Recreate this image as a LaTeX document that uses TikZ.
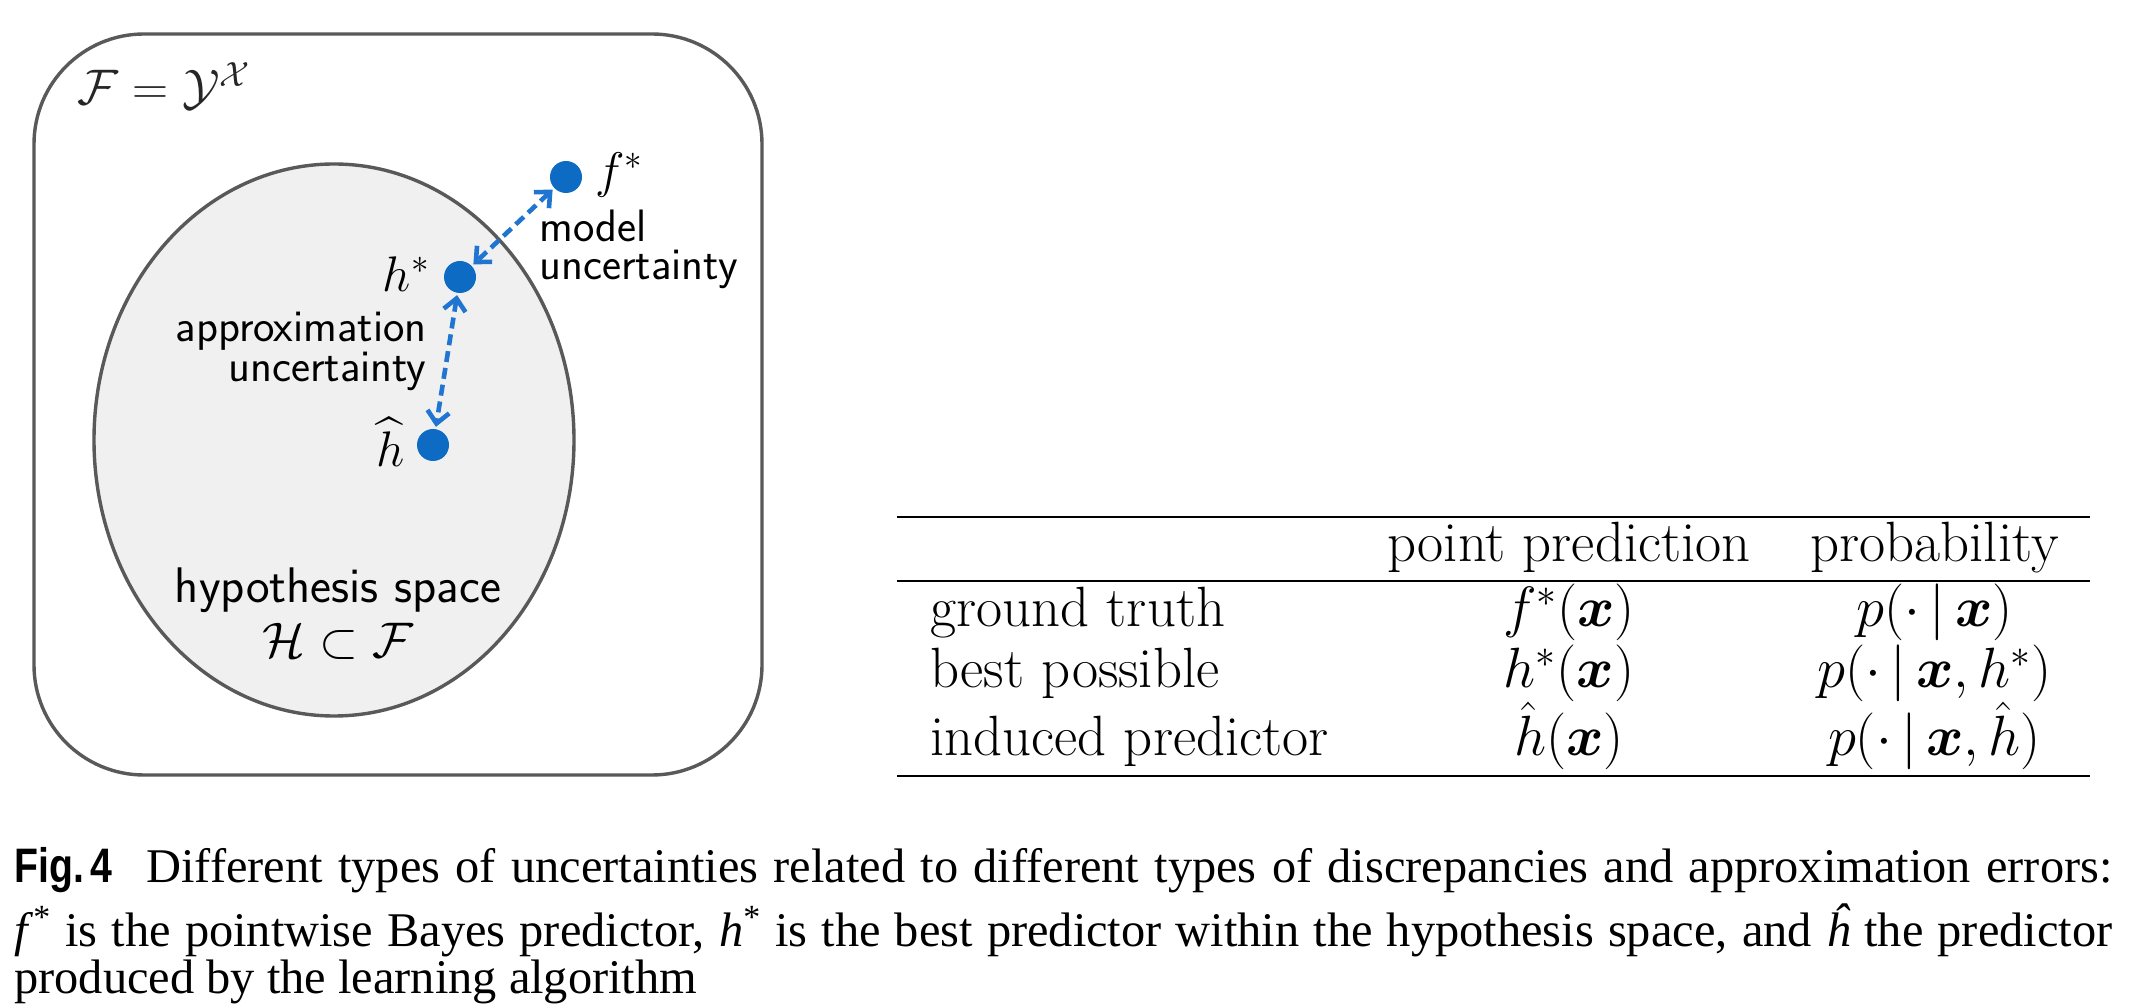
\RequirePackage{fix-cm}
\documentclass[tikz,border=0pt]{standalone}
\usepackage{amsmath}
\usepackage{fontspec}
\usepackage{bm}
\usepackage{graphicx}
\newfontfamily\capserif{Liberation Serif}
\newfontfamily\capsans{Liberation Sans}
\usetikzlibrary{arrows.meta}
\definecolor{dotblue}{RGB}{14,107,196}
\definecolor{arrblue}{RGB}{31,117,208}
\definecolor{frameg}{RGB}{89,89,89}
\definecolor{hypfill}{RGB}{240,240,240}
\tikzset{
  frameline/.style={draw=frameg, line width=1.7pt},
  bluedot/.style={circle, fill=dotblue, inner sep=0pt, minimum size=16pt},
  unc/.style={arrblue, line width=2.3pt, dash pattern=on 5.5pt off 3pt,
    {Straight Barb[length=6pt,width=11pt]}-{Straight Barb[length=6pt,width=11pt]},
    shorten <=1pt, shorten >=1pt},
  sanslab/.style={font=\sffamily\fontsize{22.7pt}{19pt}\selectfont, inner sep=0pt},
  hyplab/.style={font=\sffamily\fontsize{25pt}{27.5pt}\selectfont, inner sep=0pt},
  mathlab/.style={font=\fontsize{25pt}{28pt}\selectfont, inner sep=0pt},
  tabtext/.style={font=\fontsize{28.4pt}{32pt}\selectfont, inner sep=0pt},
  rulel/.style={line width=0.8pt, black},
  captext/.style={font=\capserif\fontsize{24.2pt}{23.5pt}\selectfont, inner sep=0pt,
    text width=1049pt, align=justify}
}
\begin{document}
\begin{tikzpicture}[x=0.5pt,y=-0.5pt]
\useasboundingbox[fill=white] (0,0) rectangle (2132,1004);
% outer set
\draw[frameline, rounded corners=55pt] (34,34) rectangle (762,775);
\node[mathlab, anchor=base west, text=black!85] (F) at (77,105) {$\mathcal{F}=\mathcal{Y}^{\mathcal{X}}$};
% hypothesis space
\draw[frameline, fill=hypfill] (334,440) ellipse [x radius=120pt, y radius=138pt];
\node[hyplab, align=center, anchor=base] (hyp) at (338,658) {hypothesis space\\$\mathcal{H}\subset\mathcal{F}$};
% points
\node[bluedot] (fs) at (566,177) {};
\node[bluedot] (hs) at (460,277) {};
\node[bluedot] (hh) at (433,445) {};
\node[mathlab, anchor=base west] (fsl) at (595,188) {$f^*$};
\node[mathlab, anchor=base east] (hsl) at (430,292) {$h^*$};
\node[mathlab, anchor=base east] (hhl) at (405,467) {$\widehat{h}$};
% connectors
\draw[unc] (fs) -- (hs);
\draw[unc] (hs) -- (hh);
\node[sanslab, align=left, anchor=base west] (mu) at (539,280) {model\\uncertainty};
\node[sanslab, align=right, anchor=base east] (au) at (427,382) {approximation\\uncertainty};
% table
\draw[rulel] (897,517) -- (2090,517);
\draw[rulel] (897,581) -- (2090,581);
\draw[rulel] (897,776) -- (2090,776);
\node[tabtext, anchor=base] (h2) at (1569,562) {point prediction};
\node[tabtext, anchor=base] (h3) at (1934.5,562) {probability};
\node[tabtext, anchor=base west] (r1) at (930,627) {ground truth};
\node[tabtext, anchor=base west] (r2) at (930,688) {best possible};
\node[tabtext, anchor=base west] (r3) at (930,756) {induced predictor};
\node[tabtext, anchor=base] (c12) at (1569,627) {$f^*(\bm{x})$};
\node[tabtext, anchor=base] (c22) at (1569,688) {$h^*(\bm{x})$};
\node[tabtext, anchor=base] (c32) at (1569,756) {$\hat{h}(\bm{x})$};
\node[tabtext, anchor=base] (c13) at (1934.5,627) {$p(\cdot\,|\,\bm{x})$};
\node[tabtext, anchor=base] (c23) at (1934.5,688) {$p(\cdot\,|\,\bm{x},h^*)$};
\node[tabtext, anchor=base] (c33) at (1934.5,756) {$p(\cdot\,|\,\bm{x},\hat{h})$};
% caption
\node[captext, anchor=base west] (caption) at (14,883) {\lineskiplimit=-100pt\relax\scalebox{0.81}[1]{\capsans\bfseries Fig.\,4}\hspace{17pt}Different types of uncertainties related to different types of discrepancies and approximation errors:\vadjust{\vskip 4pt}\linebreak \textit{f}\textsuperscript{*} is the pointwise Bayes predictor, \textit{h}\textsuperscript{*} is the best predictor within the hypothesis space, and \textit{\^h} the predictor\linebreak produced by the learning algorithm};
\end{tikzpicture}
\end{document}
